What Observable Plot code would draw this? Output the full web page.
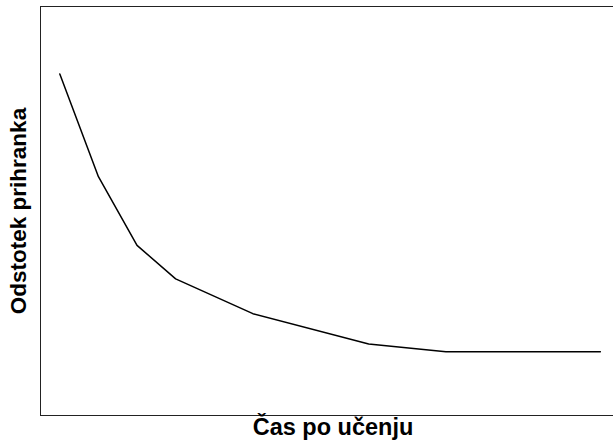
<!DOCTYPE html>
<html>
<head>
<meta charset="utf-8">
<script src="https://cdn.jsdelivr.net/npm/d3@7"></script>
<script src="https://cdn.jsdelivr.net/npm/@observablehq/plot@0.6"></script>
<style>
  html, body { margin: 0; padding: 0; background: #fff; }
  #chart svg { display: block; }
</style>
</head>
<body>
<div id="chart"></div>
<script>
const timeSteps = [0, 1, 2, 3, 5, 8, 10, 11, 12, 13, 14];
const savings = [83.5, 58.4, 41.6, 33.4, 24.9, 17.5, 15.6, 15.6, 15.6, 15.6, 15.6];
const xLabel = "Čas po učenju";
const yLabel = "Odstotek prihranka";

const data = timeSteps.map((t, i) => ({t, v: savings[i]}));
const xDomain = [-0.5, 14.34];
const yDomain = [0, 100];

const chart = Plot.plot({
  width: 613,
  height: 444,
  marginTop: 6,
  marginBottom: 29,
  marginLeft: 40,
  marginRight: 0,
  style: {fontFamily: "Liberation Sans, Arial, sans-serif", background: "#fff"},
  x: {domain: xDomain, axis: null},
  y: {domain: yDomain, axis: null},
  marks: [
    Plot.ruleY([yDomain[0], yDomain[1]], {stroke: "#222", strokeWidth: 1}),
    Plot.ruleX([xDomain[0]], {stroke: "#222", strokeWidth: 1}),
    Plot.line(data, {x: "t", y: "v", stroke: "#000", strokeWidth: 1.5}),
    Plot.text([xLabel], {frameAnchor: "bottom", textAnchor: "middle", dx: 6, dy: 19, fontSize: 23.5, fontWeight: "bold", fill: "#000"}),
    Plot.text([yLabel], {frameAnchor: "left", textAnchor: "middle", dx: -21.5, rotate: -90, fontSize: 22.5, fontWeight: "bold", fill: "#000"})
  ]
});
document.getElementById("chart").appendChild(chart);
</script>
</body>
</html>
